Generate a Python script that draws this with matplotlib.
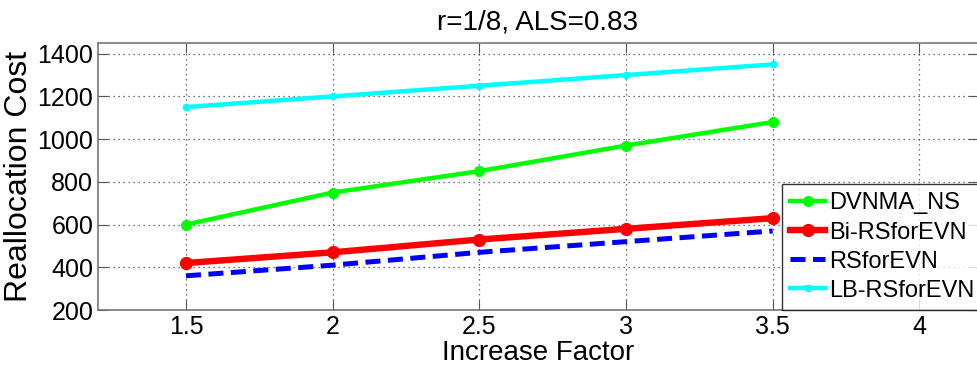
import matplotlib
matplotlib.use('Agg')
import matplotlib.pyplot as plt

plt.rcParams['font.family'] = ['Liberation Sans', 'DejaVu Sans']

x = [1.5, 2, 2.5, 3, 3.5]
dvnma_ns = [600, 750, 850, 970, 1080]
bi_rs = [420, 470, 530, 580, 630]
rs = [360, 410, 470, 520, 570]
lb_rs = [1150, 1200, 1250, 1300, 1350]
xticks = [1.5, 2, 2.5, 3, 3.5, 4]
yticks = [200, 400, 600, 800, 1000, 1200, 1400]

fig = plt.figure(figsize=(9.78, 3.76), dpi=100)
ax = fig.add_axes([98 / 978, 1 - 310 / 376, 880 / 978, 267 / 376])

ax.plot(x, dvnma_ns, color='#00ff00', lw=3.2, marker='o', ms=7, label='DVNMA_NS')
ax.plot(x, bi_rs, color='#ff0000', lw=4.6, marker='o', ms=8.5, label='Bi-RSforEVN')
ax.plot(x, rs, color='#0000ff', lw=3.6, ls=(0, (3, 1.5)), label='RSforEVN')
ax.plot(x, lb_rs, color='#00ffff', lw=3.2, marker='o', ms=4.5, label='LB-RSforEVN')

ax.set_xlim(1.2, 4.2)
ax.set_ylim(200, 1450)
ax.set_xticks(xticks)
ax.set_xticklabels(['1.5', '2', '2.5', '3', '3.5', '4'])
ax.set_yticks(yticks)
ax.tick_params(direction='in', top=True, right=True, labelsize=18, length=7, color='#555555')
ax.grid(True, ls=(0, (1, 3)), color='#444444', lw=0.9)
for s in ax.spines.values():
    s.set_color('#777777')
    s.set_linewidth(1.2)

ax.set_xlabel('Increase Factor', fontsize=20, labelpad=1)
ax.set_ylabel('Reallocation Cost', fontsize=23, labelpad=2)
ax.set_title('r=1/8, ALS=0.83', fontsize=20, pad=10)

leg = ax.legend(loc='lower left', bbox_to_anchor=(0.777, 0.0), fontsize=17,
                frameon=True, fancybox=False, edgecolor='black', borderpad=0.35,
                handlelength=1.5, handletextpad=0.15, labelspacing=0.3, borderaxespad=0)
leg.get_frame().set_linewidth(1.0)

fig.savefig('out.png', dpi=100)
